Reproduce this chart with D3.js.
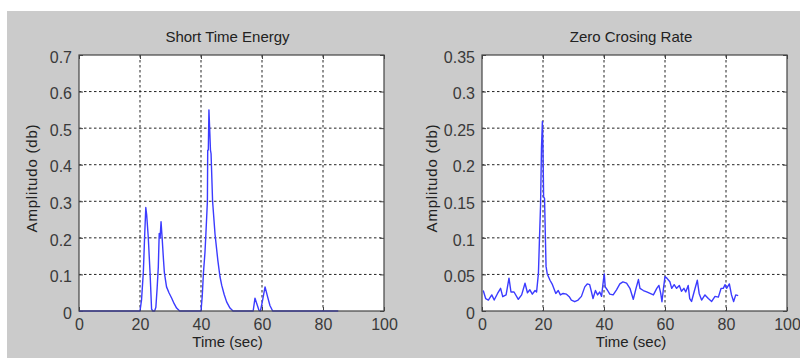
<!DOCTYPE html>
<html>
<head>
<meta charset="utf-8">
<script src="https://cdn.jsdelivr.net/npm/d3@7"></script>
<style>
  body { margin: 0; background: #fff; }
  svg { display: block; font-family: "Liberation Sans", Arial, sans-serif; }
  .tick text { fill: #3a3a3a; font-size: 16px; }
  .tick line { stroke: #444; }
  .domain { display: none; }
  .gridLine { stroke: #222; stroke-width: 1; stroke-dasharray: 2.5,2.5; }
  .boxBg { fill: #fff; stroke: none; }
  .boxFrame { fill: none; stroke: #444; stroke-width: 1.2; }
  .label { fill: #222; font-size: 15px; }
  .sigLine { fill: none; stroke: #3b3bff; stroke-width: 1.4; stroke-linejoin: round; }
</style>
</head>
<body>
<div id="chartDiv"></div>
<script>
// Data
  const xTicks = [0, 20, 40, 60, 80, 100];
  const steYTicks = [0, 0.1, 0.2, 0.3, 0.4, 0.5, 0.6, 0.7];
  const zcrYTicks = [0, 0.05, 0.1, 0.15, 0.2, 0.25, 0.3, 0.35];

  // Short Time Energy
  const steTime = [0, 20.0, 20.5, 21.1, 21.5, 21.9, 22.2, 22.7, 23.3, 23.8, 24.2, 24.8, 25.2, 25.6, 26.0, 26.3, 26.6,
    26.9, 27.3, 27.7, 28.0, 28.7, 29.5, 30.4, 31.2, 32.0, 33.0, 40.0, 40.4, 40.8, 41.3, 41.6, 42.1, 42.2, 42.4,
    42.6, 42.9, 43.1, 43.3, 43.8, 44.6, 45.5, 46.2, 46.8, 47.6, 48.4, 49.5, 50.5, 57.1, 57.7, 58.3, 59.0, 59.5,
    60.2, 61.0, 61.8, 62.6, 63.5, 85];
  const steAmp = [0, 0, 0.03, 0.107, 0.2, 0.283, 0.262, 0.203, 0.104, 0.005, 0, 0, 0.01, 0.06, 0.12, 0.212, 0.2,
    0.244, 0.194, 0.14, 0.104, 0.066, 0.05, 0.035, 0.02, 0.008, 0, 0, 0.04, 0.104, 0.16, 0.21, 0.30, 0.44, 0.44,
    0.55, 0.486, 0.44, 0.43, 0.30, 0.21, 0.14, 0.095, 0.07, 0.045, 0.025, 0.008, 0, 0, 0.035, 0.02, 0.002, 0,
    0.03, 0.066, 0.04, 0.015, 0, 0];

  // Zero Crosing Rate
  const zcrTime = [0.4, 1.2, 2.1, 3.2, 4.0, 5.1, 6.1, 6.8, 7.9, 8.85, 9.5, 10.5, 11.9, 13.0, 14.1, 14.9, 15.7, 16.5,
    17.4, 17.9, 18.5, 18.8, 19.2, 19.5, 19.8, 20.0, 20.2, 20.5, 21.0, 21.4, 22.3, 23.1, 24.2, 25.0, 25.7, 26.6,
    27.7, 28.6, 29.3, 30.4, 31.5, 32.6, 33.7, 34.5, 35.3, 35.9, 36.4, 37.2, 37.9, 38.6, 39.2, 39.8, 40.1, 40.4,
    41.1, 41.9, 43.0, 44.1, 45.2, 46.2, 47.4, 48.5, 49.6, 50.5, 51.3, 51.8, 52.9, 54.0, 55.1, 56.2, 57.3, 58.0,
    58.6, 59.0, 59.5, 60.0, 60.6, 61.6, 62.2, 63.0, 63.8, 64.7, 65.4, 66.2, 66.8, 67.6, 68.1, 68.7, 69.4, 70.6,
    71.2, 72.0, 73.1, 74.2, 75.3, 76.4, 77.5, 78.4, 79.1, 79.7, 80.2, 81.1, 81.8, 82.5, 83.2, 84.0];
  const zcrAmp = [0.028, 0.017, 0.015, 0.022, 0.015, 0.024, 0.031, 0.0196, 0.022, 0.045, 0.026, 0.026, 0.016, 0.022,
    0.038, 0.025, 0.029, 0.023, 0.028, 0.026, 0.0515, 0.0925, 0.145, 0.2225, 0.259, 0.22, 0.156, 0.154, 0.061,
    0.0506, 0.042, 0.036, 0.024, 0.028, 0.022, 0.024, 0.023, 0.0196, 0.015, 0.0127, 0.015, 0.02, 0.033, 0.037,
    0.036, 0.026, 0.017, 0.028, 0.022, 0.026, 0.02, 0.042, 0.0506, 0.033, 0.0287, 0.023, 0.022, 0.029, 0.037,
    0.0397, 0.038, 0.031, 0.016, 0.031, 0.043, 0.031, 0.028, 0.026, 0.024, 0.022, 0.031, 0.035, 0.024, 0.0127,
    0.031, 0.047, 0.045, 0.040, 0.031, 0.036, 0.031, 0.035, 0.027, 0.031, 0.026, 0.035, 0.017, 0.013, 0.024,
    0.042, 0.024, 0.015, 0.022, 0.017, 0.013, 0.020, 0.019, 0.031, 0.031, 0.036, 0.031, 0.037, 0.022, 0.013,
    0.022, 0.021];

// Layout
  const vars = { width: 800, height: 358, top: 55, bottom: 311 };

  const panels = [
    { title: 'Short Time Energy', left: 79, right: 384, yMax: 0.7, yTicks: steYTicks,
      time: steTime, amp: steAmp, yLabelOff: 42, textShift: -4 },
    { title: 'Zero Crosing Rate', left: 482, right: 787, yMax: 0.35, yTicks: zcrYTicks,
      time: zcrTime, amp: zcrAmp, yLabelOff: 45, textShift: -3.5 }
  ];

  let svg = d3.select('#chartDiv').append('svg')
    .attr('width', vars.width)
    .attr('height', vars.height);

  // gray figure background
  svg.append('rect')
    .attr('x', 7).attr('y', 11)
    .attr('width', vars.width - 7).attr('height', vars.height - 11)
    .attr('fill', '#cbcbcb');

  panels.forEach(p => {
    const w = p.right - p.left;
    const h = vars.bottom - vars.top;

    const xScale = d3.scaleLinear().domain([0, 100]).range([0, w]);
    const yScale = d3.scaleLinear().domain([0, p.yMax]).range([h, 0]);

    let g = svg.append('g').attr('transform', `translate(${p.left},${vars.top})`);

    g.append('rect').attr('class', 'boxBg')
      .attr('width', w).attr('height', h);

    // dotted grid
    g.selectAll('.vGrid').data(xTicks.slice(1, -1))
      .enter().append('line')
      .attr('class', 'gridLine vGrid')
      .attr('x1', d => xScale(d)).attr('x2', d => xScale(d))
      .attr('y1', 0).attr('y2', h);

    g.selectAll('.hGrid').data(p.yTicks.slice(1, -1))
      .enter().append('line')
      .attr('class', 'gridLine hGrid')
      .attr('x1', 0).attr('x2', w)
      .attr('y1', d => yScale(d)).attr('y2', d => yScale(d));

    // axes (inward ticks)
    const xAxis = d3.axisBottom(xScale).tickValues(xTicks)
      .tickSize(-4).tickPadding(8).tickFormat(d3.format(''));
    const yAxis = d3.axisLeft(yScale).tickValues(p.yTicks)
      .tickSize(-4).tickPadding(7).tickFormat(d => d);

    g.append('g').attr('transform', `translate(0,${h})`).call(xAxis);
    let yAxisG = g.append('g').call(yAxis);
    yAxisG.selectAll('.tick text').attr('dy', '0.45em');

    // ticks on top and right side too
    g.append('g').call(d3.axisTop(xScale).tickValues(xTicks).tickSize(-4).tickFormat(''));
    g.append('g').attr('transform', `translate(${w},0)`)
      .call(d3.axisRight(yScale).tickValues(p.yTicks).tickSize(-4).tickFormat(''));

    // signal
    const line = d3.line()
      .x((d, i) => xScale(p.time[i]))
      .y(d => yScale(d));

    g.append('path').attr('class', 'sigLine')
      .attr('d', line(p.amp));

    g.append('rect').attr('class', 'boxFrame')
      .attr('width', w).attr('height', h);

    // labels
    g.append('text').attr('class', 'label')
      .attr('x', w / 2 + p.textShift).attr('y', 42 - vars.top)
      .attr('text-anchor', 'middle')
      .text(p.title);

    g.append('text').attr('class', 'label')
      .attr('x', w / 2 + p.textShift).attr('y', 347 - vars.top)
      .attr('text-anchor', 'middle')
      .text('Time (sec)');

    g.append('text').attr('class', 'label')
      .attr('transform', `translate(${-p.yLabelOff},${178 - vars.top}) rotate(-90)`)
      .attr('text-anchor', 'middle')
      .style('letter-spacing', '0.8px')
      .text('Amplitudo (db)');
  });
</script>
</body>
</html>
